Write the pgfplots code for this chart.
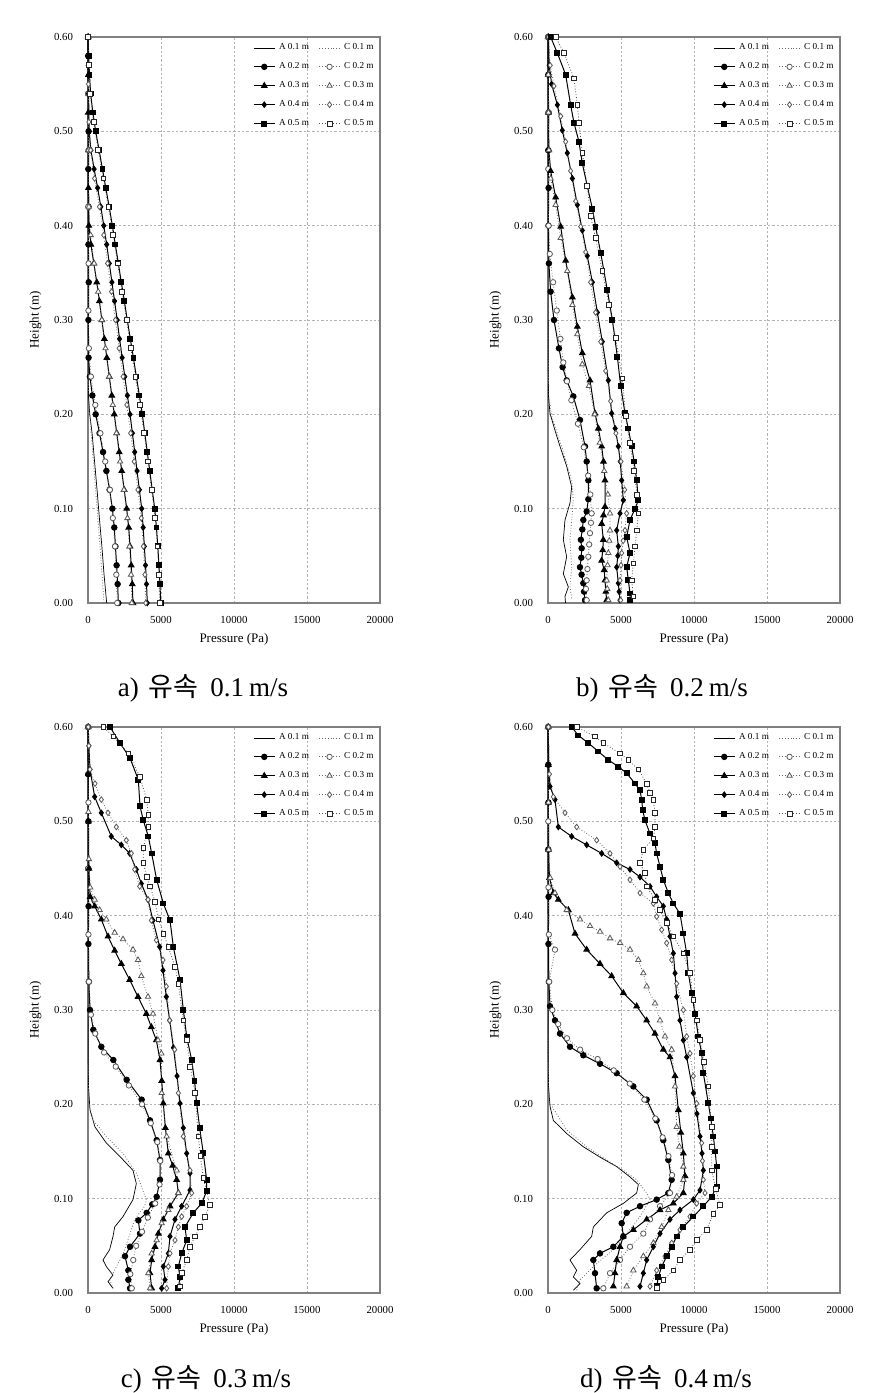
\documentclass[border=0pt]{standalone}
\usepackage{pgfplots}
\pgfplotsset{compat=1.18}
\usepackage{fontspec}
\setmainfont{Liberation Serif}
\newfontfamily\cjk{Noto Sans CJK KR}

\pgfplotsset{
  panel/.style={
    scale only axis, width=146pt, height=283pt,
    xmin=0, xmax=20000, ymin=0, ymax=0.6,
    clip=false,
    xtick={0,5000,10000,15000,20000},
    ytick={0,0.1,0.2,0.3,0.4,0.5,0.6},
    scaled x ticks=false, scaled y ticks=false,
    /pgf/number format/assume math mode=true,
    xticklabel style={/pgf/number format/1000 sep={}, yshift=-3pt},
    yticklabel style={/pgf/number format/fixed, /pgf/number format/fixed zerofill, /pgf/number format/precision=2, xshift=-4pt},
    tick label style={font=\fontsize{5.4}{6}\selectfont},
    major tick length=0pt,
    axis line style={draw=gray, line width=0.7pt},
    grid=major,
    major grid style={draw=gray!60, dash pattern=on 1.2pt off 1pt, line width=0.3pt},
    xlabel={Pressure (Pa)}, ylabel={Height (m)},
    label style={font=\fontsize{6.5}{7}\selectfont},
    xlabel style={at={(axis description cs:0.5,-0.065)}, anchor=center},
    ylabel style={at={(axis description cs:-0.18,0.5)}, anchor=center},
    legend style={at={(1,1)}, anchor=north east, draw=none, fill=none,
      font=\fontsize{4.6}{5}\selectfont, legend columns=2, row sep=0.9pt,
      /tikz/every even column/.append style={column sep=3pt}, inner sep=1pt},
    legend image code/.code={\draw[mark repeat=2,mark phase=2,#1] plot coordinates {(0cm,0cm) (0.18cm,0cm) (0.36cm,0cm)};},
    legend entries={A 0.1 m, C 0.1 m, A 0.2 m, C 0.2 m, A 0.3 m, C 0.3 m, A 0.4 m, C 0.4 m, A 0.5 m, C 0.5 m},
  },
  sA1/.style={black, line width=0.35pt, mark=none},
  sC1/.style={gray!80!black, line width=0.4pt, densely dotted, mark=none},
  sA2/.style={black, line width=0.5pt, mark=*, mark size=1.35pt, mark options={solid}},
  sC2/.style={gray!80!black, line width=0.4pt, densely dotted, mark=*, mark size=1.35pt, mark options={solid, fill=white, draw=gray!70!black}},
  sA3/.style={black, line width=0.5pt, mark=triangle*, mark size=1.55pt, mark options={solid}},
  sC3/.style={gray!80!black, line width=0.4pt, densely dotted, mark=triangle*, mark size=1.55pt, mark options={solid, fill=white, draw=gray!70!black}},
  sA4/.style={black, line width=0.5pt, mark=diamond*, mark size=1.35pt, mark options={solid}},
  sC4/.style={gray!80!black, line width=0.4pt, densely dotted, mark=diamond*, mark size=1.4pt, mark options={solid, fill=white, draw=gray!70!black}},
  sA5/.style={black, line width=0.5pt, mark=square*, mark size=1.2pt, mark options={solid}},
  sC5/.style={gray!60!black, line width=0.4pt, densely dotted, mark=square*, mark size=1.2pt, mark options={solid, fill=white, draw=gray!30!black}},
}

\begin{document}
\begin{tikzpicture}
\path[use as bounding box] (0,0) rectangle (440.5pt,696.5pt);

% ---------------- a) 0.1 m/s ----------------
\begin{axis}[panel, at={(44pt,395pt)}, anchor=south west]
\addplot[sA1] coordinates {(1280,0) (1100,0.03) (950,0.06) (780,0.09) (620,0.12) (450,0.15) (280,0.18) (120,0.20) (30,0.22) (10,0.3) (0,0.6)};
\addplot[sC1] coordinates {(1100,0) (960,0.03) (820,0.06) (670,0.09) (520,0.12) (370,0.15) (220,0.18) (80,0.21) (10,0.24) (0,0.3) (0,0.6)};
\addplot[sA2] coordinates {(2080,0) (2030,0.02) (1960,0.04) (1880,0.06) (1800,0.08) (1670,0.10) (1480,0.12) (1260,0.14) (1030,0.16) (790,0.18) (525,0.20) (300,0.22) (130,0.24) (40,0.26) (30,0.30) (50,0.34) (30,0.38) (40,0.42) (20,0.46) (40,0.50) (20,0.54) (10,0.58) (0,0.60)};
\addplot[sC2] coordinates {(2000,0) (1940,0.03) (1850,0.06) (1700,0.09) (1500,0.12) (1180,0.15) (850,0.18) (500,0.21) (200,0.24) (60,0.27) (30,0.31) (40,0.36) (20,0.42) (30,0.48) (20,0.54) (10,0.6)};
\addplot[sA3] coordinates {(3080,0) (3030,0.02) (2960,0.04) (2880,0.06) (2790,0.08) (2650,0.10) (2480,0.12) (2310,0.14) (2140,0.16) (1970,0.18) (1800,0.20) (1630,0.22) (1460,0.24) (1290,0.26) (1120,0.28) (950,0.30) (780,0.32) (600,0.34) (400,0.36) (200,0.38) (60,0.40) (30,0.44) (40,0.48) (20,0.52) (30,0.56) (10,0.60)};
\addplot[sC3] coordinates {(3000,0) (2950,0.03) (2840,0.06) (2700,0.09) (2460,0.12) (2200,0.15) (1950,0.18) (1700,0.21) (1450,0.24) (1200,0.27) (950,0.30) (700,0.33) (420,0.36) (180,0.39) (60,0.42) (30,0.48) (20,0.54) (10,0.6)};
\addplot[sA4] coordinates {(4060,0) (4010,0.02) (3940,0.04) (3860,0.06) (3780,0.08) (3680,0.10) (3520,0.12) (3360,0.14) (3200,0.16) (3040,0.18) (2880,0.20) (2700,0.22) (2520,0.24) (2340,0.26) (2160,0.28) (2000,0.30) (1820,0.32) (1640,0.34) (1460,0.36) (1280,0.38) (1080,0.40) (880,0.42) (660,0.44) (420,0.46) (200,0.48) (80,0.50) (40,0.54) (20,0.57) (10,0.60)};
\addplot[sC4] coordinates {(3950,0) (3900,0.03) (3790,0.06) (3650,0.09) (3420,0.12) (3170,0.15) (2920,0.18) (2660,0.21) (2400,0.24) (2130,0.27) (1880,0.30) (1610,0.33) (1340,0.36) (1080,0.39) (780,0.42) (450,0.45) (180,0.48) (60,0.51) (30,0.55) (10,0.6)};
\addplot[sA5] coordinates {(4980,0) (4930,0.02) (4860,0.04) (4780,0.06) (4690,0.08) (4570,0.10) (4400,0.12) (4230,0.14) (4060,0.16) (3890,0.18) (3720,0.20) (3520,0.22) (3310,0.24) (3110,0.26) (2900,0.28) (2690,0.30) (2490,0.32) (2280,0.34) (2080,0.36) (1870,0.38) (1670,0.40) (1450,0.42) (1220,0.44) (990,0.46) (760,0.48) (525,0.50) (330,0.52) (180,0.54) (100,0.56) (50,0.58) (0,0.60)};
\addplot[sC5] coordinates {(4900,0) (4860,0.03) (4760,0.06) (4600,0.09) (4360,0.12) (4100,0.15) (3850,0.18) (3560,0.21) (3250,0.24) (2940,0.27) (2640,0.30) (2330,0.33) (2030,0.36) (1720,0.39) (1400,0.42) (1050,0.45) (700,0.48) (380,0.51) (150,0.54) (50,0.57) (0,0.6)};
\end{axis}

% ---------------- b) 0.2 m/s ----------------
\begin{axis}[panel, at={(274pt,395pt)}, anchor=south west]
\addplot[sA1] coordinates {(1200,0) (1164,0.007) (1393,0.017) (1050,0.031) (1279,0.049) (1050,0.067) (1164,0.088) (1507,0.106) (1621,0.123) (1279,0.145) (822,0.166) (479,0.183) (137,0.201) (30,0.22) (10,0.3) (0,0.6)};
\addplot[sC1] coordinates {(1621,0.005) (1507,0.017) (1621,0.038) (1507,0.067) (1621,0.088) (1735,0.109) (1621,0.130) (936,0.166) (251,0.198) (50,0.22) (0,0.3) (0,0.6)};
\addplot[sA2] coordinates {(2534,0.003) (2470,0.012) (2420,0.021) (2300,0.030) (2192,0.038) (2280,0.048) (2306,0.058) (2250,0.067) (2350,0.078) (2420,0.088) (2650,0.097) (2763,0.110) (2763,0.130) (2650,0.150) (2534,0.166) (2192,0.194) (1735,0.219) (1279,0.236) (1000,0.250) (750,0.270) (410,0.300) (180,0.330) (60,0.360) (30,0.40) (40,0.44) (20,0.48) (40,0.52) (20,0.56) (10,0.60)};
\addplot[sC2] coordinates {(2649,0.003) (2600,0.015) (2649,0.024) (2700,0.036) (2763,0.049) (2820,0.062) (2877,0.074) (2940,0.085) (2991,0.095) (2900,0.115) (2750,0.135) (2450,0.165) (2050,0.190) (1600,0.215) (1300,0.235) (1050,0.255) (850,0.280) (600,0.310) (350,0.340) (120,0.370) (40,0.40) (20,0.46) (30,0.52) (10,0.60)};
\addplot[sA3] coordinates {(4019,0.003) (3960,0.012) (3904,0.024) (3850,0.035) (3676,0.045) (3750,0.056) (3790,0.067) (3676,0.084) (3800,0.093) (3904,0.102) (3904,0.130) (3800,0.150) (3676,0.166) (3450,0.185) (3219,0.201) (2877,0.236) (2350,0.265) (2010,0.293) (1670,0.324) (1210,0.363) (870,0.399) (525,0.430) (180,0.458) (60,0.48) (30,0.52) (20,0.56) (10,0.60)};
\addplot[sC3] coordinates {(4133,0.003) (4060,0.015) (4019,0.024) (4080,0.040) (4133,0.053) (4200,0.066) (4247,0.077) (4247,0.095) (4100,0.115) (3850,0.140) (3550,0.170) (3200,0.200) (2800,0.230) (2350,0.253) (2010,0.285) (1670,0.316) (1320,0.352) (870,0.387) (525,0.422) (180,0.450) (60,0.48) (30,0.52) (20,0.56) (10,0.60)};
\addplot[sA4] coordinates {(4932,0.003) (4870,0.012) (4818,0.021) (4703,0.038) (4780,0.050) (4818,0.060) (4703,0.077) (4932,0.095) (5160,0.109) (5046,0.130) (4950,0.150) (4818,0.166) (4600,0.185) (4361,0.201) (4133,0.236) (3720,0.277) (3380,0.308) (3040,0.340) (2690,0.368) (2350,0.395) (2010,0.422) (1670,0.450) (1320,0.477) (980,0.501) (640,0.528) (250,0.550) (80,0.570) (30,0.60)};
\addplot[sC4] coordinates {(4977,0.003) (4932,0.024) (5000,0.040) (5046,0.053) (5150,0.066) (5274,0.077) (5388,0.095) (5250,0.120) (5000,0.150) (4650,0.180) (4290,0.214) (3950,0.246) (3610,0.277) (3260,0.308) (2920,0.340) (2580,0.372) (2240,0.399) (1900,0.426) (1550,0.458) (1210,0.489) (870,0.516) (410,0.548) (150,0.570) (40,0.60)};
\addplot[sA5] coordinates {(5617,0.003) (5617,0.010) (5503,0.024) (5388,0.038) (5617,0.053) (5388,0.070) (5617,0.088) (5960,0.100) (6188,0.109) (6074,0.130) (5900,0.150) (5731,0.166) (5500,0.185) (5274,0.201) (4980,0.230) (4750,0.261) (4410,0.300) (4060,0.332) (3610,0.371) (3260,0.399) (3040,0.418) (2690,0.442) (2350,0.466) (2120,0.489) (1780,0.509) (1550,0.528) (1210,0.560) (640,0.583) (180,0.600)};
\addplot[sC5] coordinates {(5845,0.007) (5731,0.024) (5845,0.042) (5960,0.060) (6074,0.077) (6188,0.095) (6100,0.115) (5900,0.140) (5600,0.170) (5320,0.198) (5090,0.238) (4630,0.281) (4180,0.316) (3720,0.352) (3260,0.387) (2920,0.410) (2690,0.442) (2350,0.477) (2120,0.509) (2010,0.528) (1780,0.556) (1100,0.583) (525,0.600)};
\end{axis}

% ---------------- c) 0.3 m/s ----------------
\begin{axis}[panel, at={(44pt,50pt)}, anchor=south west]
\addplot[sA1] coordinates {(1713,0.005) (1370,0.012) (1713,0.019) (1256,0.028) (1027,0.035) (1484,0.046) (1713,0.060) (1827,0.070) (2398,0.081) (3082,0.099) (3310,0.116) (3082,0.130) (2170,0.145) (1256,0.159) (479,0.176) (137,0.194) (30,0.22) (10,0.3) (0,0.6)};
\addplot[sC1] coordinates {(1713,0.005) (1484,0.014) (1713,0.021) (2420,0.042) (2877,0.063) (3197,0.078) (3881,0.092) (3996,0.099) (3310,0.127) (2398,0.148) (1256,0.166) (365,0.183) (60,0.20) (0,0.25) (0,0.6)};
\addplot[sA2] coordinates {(2877,0.005) (2763,0.014) (2763,0.024) (2534,0.039) (2877,0.049) (3562,0.063) (3448,0.077) (4019,0.085) (4400,0.094) (4703,0.102) (4932,0.120) (4932,0.141) (4703,0.162) (4247,0.183) (3676,0.205) (2649,0.226) (1735,0.247) (913,0.261) (365,0.279) (137,0.300) (60,0.33) (30,0.37) (40,0.41) (20,0.45) (30,0.50) (20,0.55) (10,0.60)};
\addplot[sC2] coordinates {(3000,0.005) (2900,0.020) (3100,0.035) (3300,0.050) (3700,0.065) (4100,0.080) (4600,0.095) (4900,0.115) (4950,0.140) (4750,0.160) (4300,0.180) (3700,0.200) (2800,0.220) (1900,0.240) (1100,0.255) (500,0.275) (200,0.295) (60,0.33) (30,0.38) (20,0.45) (30,0.52) (10,0.60)};
\addplot[sA3] coordinates {(4361,0.005) (4247,0.021) (4361,0.035) (4589,0.049) (4818,0.063) (5160,0.078) (5617,0.092) (6188,0.106) (6074,0.120) (5800,0.135) (5503,0.148) (5300,0.175) (5160,0.201) (5050,0.225) (4932,0.247) (4681,0.268) (4338,0.282) (3996,0.296) (3425,0.314) (2854,0.332) (2283,0.349) (1827,0.363) (1370,0.378) (913,0.396) (457,0.410) (150,0.42) (60,0.45) (30,0.50) (20,0.55) (10,0.60)};
\addplot[sC3] coordinates {(4247,0.005) (4133,0.021) (4361,0.042) (4703,0.056) (5046,0.074) (5503,0.088) (6188,0.106) (6074,0.130) (5388,0.166) (5046,0.212) (5023,0.254) (4795,0.268) (4452,0.296) (4110,0.314) (3653,0.336) (3425,0.353) (3082,0.364) (2398,0.375) (1827,0.382) (1256,0.396) (799,0.406) (457,0.417) (150,0.43) (60,0.46) (30,0.51) (10,0.60)};
\addplot[sA4] coordinates {(5046,0.005) (5274,0.014) (5160,0.028) (5503,0.042) (5617,0.060) (5960,0.078) (6416,0.092) (6987,0.109) (6987,0.127) (6759,0.148) (6530,0.175) (6302,0.201) (6100,0.230) (5850,0.260) (5594,0.289) (5365,0.314) (5137,0.342) (4909,0.367) (4452,0.395) (4110,0.417) (3653,0.434) (3310,0.449) (2854,0.466) (2283,0.475) (1598,0.484) (913,0.509) (457,0.526) (137,0.555) (60,0.58) (20,0.60)};
\addplot[sC4] coordinates {(5388,0.005) (5503,0.028) (5617,0.042) (5960,0.056) (6188,0.070) (6416,0.081) (6759,0.092) (7100,0.106) (6987,0.130) (6530,0.166) (6188,0.212) (5936,0.258) (5594,0.289) (5365,0.325) (5137,0.353) (4681,0.374) (4338,0.395) (4110,0.417) (3539,0.431) (3197,0.449) (2969,0.466) (2626,0.480) (1941,0.494) (1370,0.509) (913,0.523) (480,0.540) (137,0.555) (60,0.58) (20,0.60)};
\addplot[sA5] coordinates {(6188,0.005) (6302,0.017) (6188,0.028) (6416,0.042) (6759,0.056) (6644,0.070) (7214,0.085) (7785,0.095) (8128,0.108) (8128,0.120) (7899,0.148) (7650,0.175) (7442,0.201) (7300,0.225) (7100,0.247) (6759,0.272) (6530,0.300) (6302,0.332) (5845,0.367) (5617,0.395) (5160,0.413) (4703,0.438) (4361,0.466) (4133,0.484) (3790,0.501) (3562,0.516) (3448,0.544) (2877,0.567) (2192,0.583) (1507,0.600)};
\addplot[sC5] coordinates {(6302,0.007) (6416,0.021) (6759,0.035) (6987,0.049) (7328,0.060) (7671,0.070) (8014,0.081) (8356,0.093) (7899,0.122) (7700,0.145) (7556,0.166) (7328,0.212) (7000,0.240) (6759,0.268) (6530,0.289) (6188,0.328) (5960,0.346) (5503,0.367) (5160,0.381) (4818,0.396) (4589,0.415) (4247,0.431) (4019,0.441) (3790,0.456) (3790,0.472) (4133,0.494) (4133,0.507) (4019,0.523) (3562,0.547) (2763,0.572) (1735,0.590) (1050,0.600)};
\end{axis}

% ---------------- d) 0.4 m/s ----------------
\begin{axis}[panel, at={(274pt,50pt)}, anchor=south west]
\addplot[sA1] coordinates {(1735,0.003) (2192,0.010) (1735,0.017) (1964,0.024) (1507,0.035) (2192,0.046) (2991,0.060) (3105,0.070) (4019,0.085) (5160,0.095) (6074,0.106) (6188,0.115) (5617,0.123) (4703,0.134) (3562,0.144) (2420,0.155) (1279,0.169) (365,0.183) (137,0.198) (30,0.22) (10,0.3) (0,0.6)};
\addplot[sC1] coordinates {(1964,0.003) (2192,0.014) (3105,0.028) (4475,0.046) (5388,0.063) (6302,0.081) (6987,0.099) (6759,0.106) (6074,0.120) (5160,0.130) (4019,0.141) (2649,0.155) (1279,0.173) (137,0.201) (30,0.22) (0,0.3) (0,0.6)};
\addplot[sA2] coordinates {(3333,0.005) (3219,0.021) (3105,0.035) (3562,0.042) (4475,0.049) (5160,0.060) (5046,0.074) (5388,0.085) (6302,0.092) (7442,0.099) (8242,0.106) (8470,0.120) (8242,0.141) (7899,0.162) (7442,0.183) (6759,0.205) (5845,0.219) (4703,0.233) (3562,0.243) (2420,0.252) (1507,0.261) (822,0.275) (479,0.289) (137,0.304) (60,0.33) (30,0.37) (40,0.42) (20,0.47) (30,0.52) (20,0.56) (10,0.60)};
\addplot[sC2] coordinates {(3790,0.005) (4247,0.021) (4932,0.035) (5617,0.049) (6530,0.063) (6987,0.078) (7671,0.092) (8356,0.106) (8500,0.125) (8250,0.145) (7850,0.165) (7350,0.185) (6600,0.205) (5600,0.222) (4500,0.236) (3400,0.248) (2200,0.258) (1300,0.270) (700,0.285) (300,0.300) (80,0.33) (479,0.364) (60,0.38) (30,0.43) (20,0.50) (10,0.60)};
\addplot[sA3] coordinates {(4475,0.007) (4589,0.021) (4703,0.035) (4932,0.049) (5160,0.060) (5845,0.067) (6759,0.078) (7671,0.088) (8585,0.095) (9270,0.106) (9384,0.124) (9270,0.148) (9100,0.170) (8927,0.194) (8699,0.230) (8356,0.250) (7899,0.258) (7328,0.275) (6759,0.289) (6074,0.304) (5160,0.318) (4361,0.336) (3562,0.349) (2649,0.364) (1850,0.381) (1393,0.406) (708,0.417) (365,0.424) (100,0.44) (40,0.47) (30,0.52) (20,0.56) (10,0.60)};
\addplot[sC3] coordinates {(5388,0.007) (5845,0.024) (6530,0.039) (7214,0.053) (7785,0.070) (8242,0.088) (8813,0.102) (9270,0.120) (9270,0.134) (9000,0.155) (8813,0.176) (8699,0.219) (8470,0.258) (8014,0.272) (7671,0.289) (7328,0.307) (6759,0.325) (6530,0.339) (6188,0.353) (5617,0.364) (4932,0.371) (4247,0.376) (3562,0.383) (2877,0.389) (2192,0.396) (1279,0.406) (479,0.424) (150,0.44) (50,0.47) (30,0.52) (10,0.60)};
\addplot[sA4] coordinates {(6302,0.007) (6530,0.021) (6759,0.035) (7214,0.049) (7671,0.063) (8356,0.078) (9041,0.088) (9955,0.099) (10412,0.109) (10640,0.130) (10550,0.148) (10412,0.166) (10200,0.190) (9955,0.212) (9498,0.250) (9270,0.268) (9041,0.289) (8813,0.314) (8699,0.339) (8585,0.360) (8356,0.378) (8128,0.396) (7899,0.410) (7442,0.420) (6987,0.431) (6302,0.441) (5617,0.449) (4703,0.456) (3676,0.466) (2649,0.475) (1621,0.484) (708,0.494) (479,0.523) (137,0.537) (50,0.56) (20,0.60)};
\addplot[sC4] coordinates {(6987,0.007) (7442,0.024) (8014,0.039) (8470,0.053) (9041,0.067) (9726,0.081) (10183,0.095) (10754,0.106) (10640,0.120) (10580,0.140) (10526,0.159) (10183,0.201) (9950,0.230) (9726,0.254) (9498,0.272) (9270,0.300) (8813,0.328) (8470,0.353) (8128,0.371) (7785,0.385) (7442,0.399) (7214,0.413) (6302,0.424) (5617,0.438) (4932,0.452) (4247,0.466) (3333,0.480) (1964,0.494) (1164,0.509) (365,0.526) (100,0.55) (30,0.60)};
\addplot[sA5] coordinates {(7442,0.007) (7556,0.017) (7785,0.028) (8128,0.039) (8470,0.049) (8813,0.060) (9270,0.070) (9955,0.081) (10640,0.092) (11211,0.102) (11553,0.113) (11553,0.134) (11450,0.150) (11325,0.166) (11150,0.185) (10982,0.201) (10640,0.233) (10526,0.254) (10297,0.272) (10069,0.296) (9840,0.318) (9612,0.339) (9498,0.360) (9270,0.381) (9041,0.402) (8585,0.413) (8242,0.424) (7899,0.438) (7671,0.452) (7442,0.466) (7328,0.477) (6987,0.487) (6644,0.501) (6485,0.512) (6416,0.523) (6302,0.533) (5960,0.540) (5388,0.551) (4818,0.558) (4133,0.565) (3448,0.574) (2763,0.583) (2078,0.591) (1621,0.600)};
\addplot[sC5] coordinates {(7442,0.005) (7899,0.014) (8585,0.024) (9041,0.035) (9726,0.046) (10183,0.056) (10868,0.067) (11325,0.084) (11781,0.093) (11500,0.110) (11211,0.130) (11211,0.155) (11211,0.176) (10982,0.219) (10700,0.245) (10412,0.268) (10183,0.289) (9955,0.311) (9726,0.339) (9270,0.360) (8585,0.378) (8128,0.392) (7671,0.406) (7328,0.417) (6759,0.431) (6644,0.445) (6302,0.456) (6530,0.470) (7214,0.482) (7328,0.494) (7328,0.509) (7214,0.523) (6987,0.530) (6759,0.540) (6188,0.555) (5503,0.565) (4932,0.572) (3790,0.583) (3219,0.590) (1964,0.600)};
\end{axis}

% captions
\node[anchor=base] at (101.5pt,348pt) {\fontsize{13.5}{15}\selectfont a)\hspace{5pt}{\cjk 유속}\hspace{6pt}0.1\hspace{2.5pt}m/s};
\node[anchor=base] at (331pt,348pt) {\fontsize{13.5}{15}\selectfont b)\hspace{5pt}{\cjk 유속}\hspace{6pt}0.2\hspace{2.5pt}m/s};
\node[anchor=base] at (103pt,2.5pt) {\fontsize{13.5}{15}\selectfont c)\hspace{5pt}{\cjk 유속}\hspace{6pt}0.3\hspace{2.5pt}m/s};
\node[anchor=base] at (333pt,2.5pt) {\fontsize{13.5}{15}\selectfont d)\hspace{5pt}{\cjk 유속}\hspace{6pt}0.4\hspace{2.5pt}m/s};
\end{tikzpicture}
\end{document}
